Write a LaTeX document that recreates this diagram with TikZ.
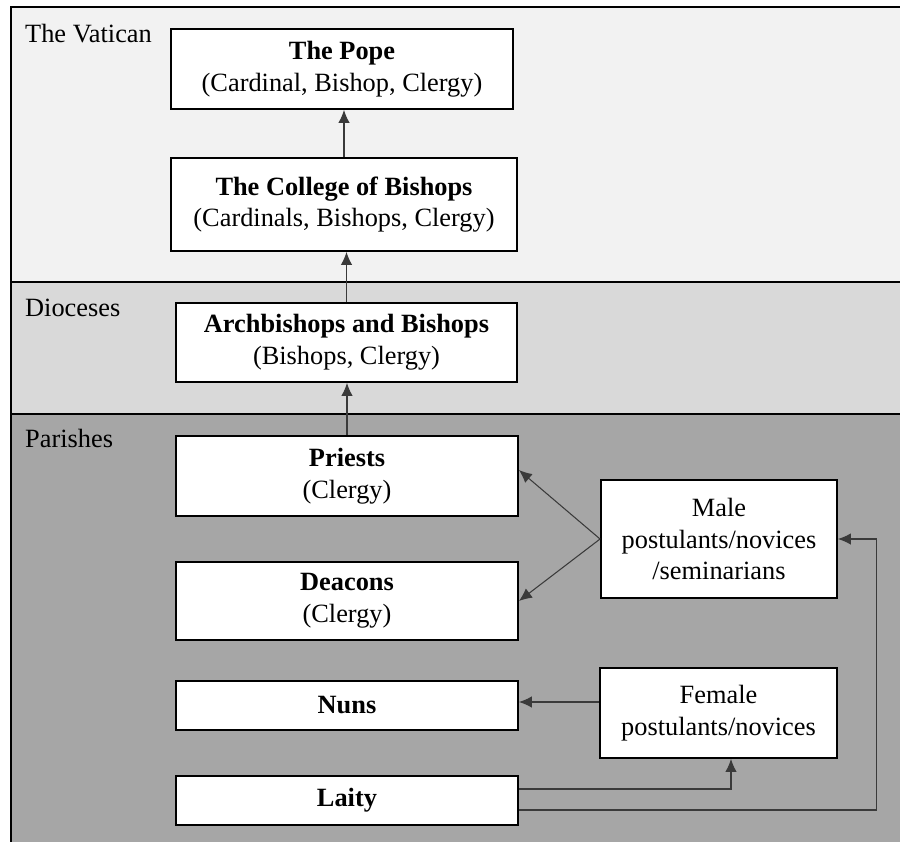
\documentclass[tikz,border=0pt]{standalone}
\usepackage{fontspec}
\setmainfont{Liberation Serif}
\usepackage{xcolor}
\usetikzlibrary{arrows}
\usetikzlibrary{arrows.meta}
\definecolor{vaticanfill}{HTML}{F2F2F2}
\definecolor{diocesefill}{HTML}{D9D9D9}
\definecolor{parishfill}{HTML}{A6A6A6}
\definecolor{linkgray}{HTML}{3A3A3A}

\begin{document}
\begin{tikzpicture}[x=0.02cm,y=-0.02cm]
\tikzstyle{every node}=[font=\fontsize{15}{18}\selectfont]
\tikzstyle{rank}=[draw=black,line width=1.1pt,fill=white,align=center,inner sep=0pt,minimum width=6.84cm]
\tikzstyle{band}=[draw=black,line width=1.2pt]
\tikzstyle{link}=[draw=linkgray,line width=0.6pt,arrows={-Latex[length=2.6mm,width=2.3mm]}]
\clip (0,0) rectangle (900,842);
\filldraw[band,fill=parishfill] (11,414) rectangle (912,860);
\filldraw[band,fill=diocesefill] (11,282) rectangle (912,414);
\filldraw[band,fill=vaticanfill] (11,7) rectangle (912,282);
\node[anchor=base west] (vatican) at (19,42) {The Vatican};
\node[anchor=base west] (dioceses) at (19,316) {Dioceses};
\node[anchor=base west] (parishes) at (19,447) {Parishes};
\node[rank,minimum height=1.6cm] (pope) at (342,69) {\textbf{The Pope}\\(Cardinal, Bishop, Clergy)};
\node[rank,minimum width=6.92cm,minimum height=1.86cm] (college) at (344,204.5) {\textbf{The College of Bishops}\\(Cardinals, Bishops, Clergy)};
\node[rank,minimum width=6.82cm,minimum height=1.58cm] (arch) at (346.5,342.5) {\textbf{Archbishops and Bishops}\\(Bishops, Clergy)};
\node[rank,minimum height=1.6cm] (priests) at (347,476) {\textbf{Priests}\\(Clergy)};
\node[rank,minimum height=1.56cm] (deacons) at (347,601) {\textbf{Deacons}\\(Clergy)};
\node[rank,minimum height=0.98cm] (nuns) at (347,705.5) {\textbf{Nuns}};
\node[rank,minimum height=0.98cm] (laity) at (347,800.5) {\textbf{Laity}};
\node[rank,minimum width=4.72cm,minimum height=2.36cm] (male) at (719,539) {Male\\postulants/novices\\/seminarians};
\node[rank,minimum width=4.74cm,minimum height=1.8cm] (female) at (718.5,713) {Female\\postulants/novices};
\draw[link] (college.north) -- (college.north |- pope.south);
\draw[link] (arch.north) -- (arch.north |- college.south);
\draw[link] (priests.north) -- (priests.north |- arch.south);
\draw[link] (male.west) -- ([yshift=0.12cm]priests.east);
\draw[link] (male.west) -- (deacons.east);
\draw[link] ([yshift=0.07cm]nuns.east -| female.west) -- ([yshift=0.07cm]nuns.east);
\draw[link] ([yshift=0.23cm]laity.east) -| ([xshift=0.25cm]female.south);
\draw[link] ([yshift=-0.19cm]laity.east) -| ([xshift=0.78cm]male.east) -- (male.east);
\end{tikzpicture}
\end{document}
